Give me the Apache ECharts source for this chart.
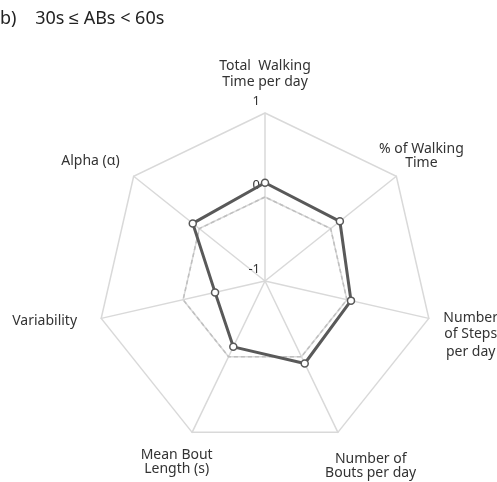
<!DOCTYPE html>
<html>
<head>
<meta charset="utf-8">
<script src="https://cdn.jsdelivr.net/npm/echarts@6/dist/echarts.min.js"></script>
<style>
  html, body { margin: 0; padding: 0; background: #fff; }
  #chart { width: 497px; height: 482px; }
</style>
</head>
<body>
<div id="chart"></div>
<script>
// axis names, top first then counterclockwise (the way echarts lays them out)
const axisNames = [
  'Total  Walking\nTime per day',
  'Alpha (\u03b1)',
  'Variability',
  'Mean Bout\nLength (s)',
  'Number of\nBouts per day',
  'Number\nof Steps\nper day',
  '% of Walking\nTime'
]
// distance of each name from its axis end, nudge [dx, dy] and line spacing
const nameGaps = [39, 45, 56, 31, 41, 43, 32]
const nameShift = [[0, 0], [-8, 12], [-2, -9], [-2, 2], [15, -3], [0, 6], [0, 0]]
const nameLineH = [16, 16, 16, 14, 14, 18, 14]
const groupValues = [0.17, 0.10, -0.39, -0.13, 0.09, 0.05, 0.14]
const refValues = [0, 0, 0, 0, 0, 0, 0]
const axisMin = -1
const axisMax = 1

const FONT = '"Noto Sans", "Liberation Sans", sans-serif'
const GRID = '#d9d9d9'
const NAME_TEXT = { color: '#333', fontFamily: FONT, fontSize: 14 }

// one rich style per axis name so each can be nudged on its own
const nameRich = {}
nameShift.forEach(([dx, dy], i) => {
  const lh = nameLineH[i]
  const pad = [0, dx < 0 ? -2 * dx : 0, 0, dx > 0 ? 2 * dx : 0]
  const base = { ...NAME_TEXT, lineHeight: lh, padding: pad }
  nameRich['n' + i] = base
  // a taller first (or last) line pushes the block down (or up)
  nameRich['d' + i] = { ...base, lineHeight: lh + 2 * Math.abs(dy), verticalAlign: 'bottom' }
  nameRich['u' + i] = { ...base, lineHeight: lh + 2 * Math.abs(dy), verticalAlign: 'top' }
})

const nameFormatter = name => {
  const i = axisNames.indexOf(name)
  const dy = nameShift[i][1]
  const lines = name.split('\n')
  return lines.map((l, k) => {
    let tag = 'n'
    if (dy > 0 && k === 0) tag = 'd'
    if (dy < 0 && k === lines.length - 1) tag = 'u'
    return '{' + tag + i + '|' + l + '}'
  }).join('\n')
}

const chart = echarts.init(document.getElementById('chart'), null, { renderer: 'canvas' })

const option = {
  animation: false,
  backgroundColor: '#fff',
  title: {
    text: 'b)    30s \u2264 ABs < 60s',
    left: -5,
    top: 5,
    textStyle: {
      fontFamily: FONT,
      fontSize: 18,
      fontWeight: 'normal',
      color: '#222'
    }
  },
  radar: {
    center: [265, 281],
    radius: 168,
    startAngle: 90,
    splitNumber: 2,
    shape: 'polygon',
    indicator: axisNames.map((name, i) => ({
      name,
      min: axisMin,
      max: axisMax,
      nameGap: nameGaps[i],
      axisLabel: { show: i === 0 }
    })),
    axisName: {
      ...NAME_TEXT,
      align: 'center',
      verticalAlign: 'middle',
      formatter: nameFormatter,
      rich: nameRich
    },
    axisLabel: {
      show: false,
      color: '#333',
      fontFamily: FONT,
      fontSize: 13,
      margin: 5,
      verticalAlign: 'bottom',
      padding: [0, 0, 5, 0],
      formatter: v => String(Math.round(v))
    },
    axisTick: { show: false },
    axisLine: { lineStyle: { color: GRID, width: 1.5 } },
    splitLine: { lineStyle: { color: GRID, width: 1.5 } },
    splitArea: { show: false }
  },
  series: [
    {
      type: 'radar',
      z: 2,
      symbol: 'none',
      lineStyle: { color: '#bfbfbf', width: 1.5, type: [4, 3] },
      data: [{ value: refValues, name: 'ref' }]
    },
    {
      type: 'radar',
      z: 3,
      symbol: 'circle',
      symbolSize: 7,
      itemStyle: { color: '#fff', borderColor: '#595959', borderWidth: 1.5 },
      lineStyle: { color: '#595959', width: 3 },
      data: [{ value: groupValues, name: 'group' }]
    }
  ]
}

chart.setOption(option)
</script>
</body>
</html>
